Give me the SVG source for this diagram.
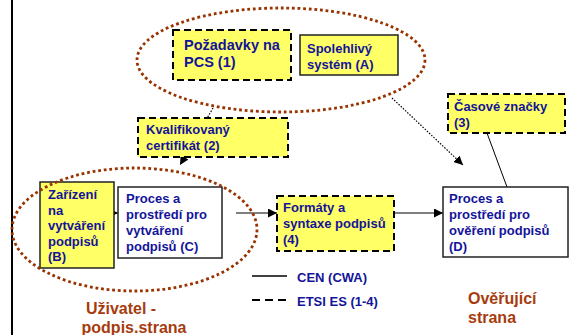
<svg xmlns="http://www.w3.org/2000/svg" width="570" height="335" viewBox="0 0 570 335">
  <defs>
    <marker id="arrow" viewBox="0 0 10 10" refX="10" refY="5" markerWidth="9" markerHeight="9" markerUnits="userSpaceOnUse" orient="auto">
      <path d="M0,0 L10,5 L0,10 Z" fill="#000"/>
    </marker>
    <style>
      .box-dash { fill: #ffff66; stroke: #000; stroke-width: 2; stroke-dasharray: 7 4; }
      .box-yellow { fill: #ffff66; stroke: #222; stroke-width: 1.5; }
      .box-white { fill: #fff; stroke: #222; stroke-width: 1.5; }
      .group { fill: none; stroke: #993300; stroke-width: 2.8; stroke-dasharray: 2.8 2.8; }
      .lbl { font-family: "Liberation Sans", Arial, sans-serif; font-weight: bold; font-size: 13px; fill: #14149a; }
      .big { font-size: 14.5px; }
      .side { font-family: "Liberation Sans", Arial, sans-serif; font-weight: bold; font-size: 16px; fill: #a63c0e; }
      .flow { stroke: #000; stroke-width: 1; fill: none; }
      .dot { stroke: #000; stroke-width: 1.2; fill: none; stroke-dasharray: 1.5 1.5; }
    </style>
  </defs>

  <rect x="0" y="0" width="570" height="335" fill="#fff"/>
  <!-- left margin rule -->
  <line x1="12" y1="0" x2="12" y2="335" stroke="#000" stroke-width="2"/>

  <!-- connectors -->
  <g id="connectors">
    <line class="dot" x1="213" y1="108" x2="180" y2="165" marker-end="url(#arrow)"/>
    <line class="dot" x1="392" y1="98" x2="463" y2="165" marker-end="url(#arrow)"/>
    <line class="flow" x1="99" y1="213" x2="118" y2="213" marker-end="url(#arrow)"/>
    <line class="flow" x1="236" y1="213" x2="277" y2="213" marker-end="url(#arrow)"/>
    <line class="flow" x1="394" y1="213" x2="443" y2="213" marker-end="url(#arrow)"/>
    <line class="flow" x1="487" y1="133" x2="507" y2="187"/>
  </g>

  <g id="node-1">
    <rect class="box-dash" x="173" y="30" width="118" height="50"/>
    <text class="lbl big" x="184" y="50">Požadavky na</text>
    <text class="lbl big" x="184" y="67">PCS (1)</text>
  </g>

  <g id="node-A">
    <rect class="box-yellow" x="300" y="35" width="98" height="40"/>
    <text class="lbl" x="307" y="53">Spolehlivý</text>
    <text class="lbl" x="307" y="69">systém (A)</text>
  </g>

  <g id="node-2">
    <rect class="box-dash" x="138" y="118" width="150" height="39"/>
    <text class="lbl" x="146" y="134">Kvalifikovaný</text>
    <text class="lbl" x="146" y="150">certifikát (2)</text>
  </g>

  <g id="node-3">
    <rect class="box-dash" x="448" y="94" width="117" height="39"/>
    <text class="lbl" x="454" y="111">Časové značky</text>
    <text class="lbl" x="454" y="127">(3)</text>
  </g>

  <g id="node-B">
    <rect class="box-yellow" x="40" y="182" width="74" height="86"/>
    <text class="lbl" x="48" y="199">Zařízení</text>
    <text class="lbl" x="48" y="214.5">na</text>
    <text class="lbl" x="48" y="230">vytváření</text>
    <text class="lbl" x="48" y="245.5">podpisů</text>
    <text class="lbl" x="48" y="261">(B)</text>
  </g>

  <g id="node-C">
    <rect class="box-white" x="118" y="187" width="104" height="71"/>
    <text class="lbl" x="126" y="203">Proces a</text>
    <text class="lbl" x="126" y="219">prostředí pro</text>
    <text class="lbl" x="126" y="235">vytváření</text>
    <text class="lbl" x="126" y="251">podpisů (C)</text>
  </g>

  <g id="node-4">
    <rect class="box-dash" x="277" y="196" width="117" height="55"/>
    <text class="lbl" x="283" y="212">Formáty a</text>
    <text class="lbl" x="283" y="228">syntaxe podpisů</text>
    <text class="lbl" x="283" y="244">(4)</text>
  </g>

  <g id="node-D">
    <rect class="box-white" x="443" y="187" width="125" height="70"/>
    <text class="lbl" x="449" y="203">Proces a</text>
    <text class="lbl" x="449" y="219">prostředí pro</text>
    <text class="lbl" x="449" y="235">ověření podpisů</text>
    <text class="lbl" x="449" y="251">(D)</text>
  </g>

  <!-- dotted groupings -->
  <g id="group-system">
    <ellipse class="group" cx="281" cy="60" rx="144" ry="52"/>
  </g>
  <g id="group-user">
    <ellipse class="group" cx="134.5" cy="229.5" rx="122.5" ry="61.5"/>
  </g>

  <!-- legend -->
  <g id="legend">
    <line x1="252" y1="276" x2="287" y2="276" stroke="#000" stroke-width="1.5"/>
    <line x1="252" y1="300" x2="287" y2="300" stroke="#000" stroke-width="2" stroke-dasharray="8 5"/>
    <text class="lbl" x="297" y="282" font-size="12.5">CEN (CWA)</text>
    <text class="lbl" x="297" y="306" font-size="12.5">ETSI ES (1-4)</text>
  </g>

  <!-- side captions -->
  <g id="caption-user">
    <text class="side" x="121" y="314" text-anchor="middle">Uživatel -</text>
    <text class="side" x="134" y="333" text-anchor="middle">podpis.strana</text>
  </g>
  <g id="caption-verifier">
    <text class="side" x="468" y="304">Ověřující</text>
    <text class="side" x="468" y="323">strana</text>
  </g>
</svg>
